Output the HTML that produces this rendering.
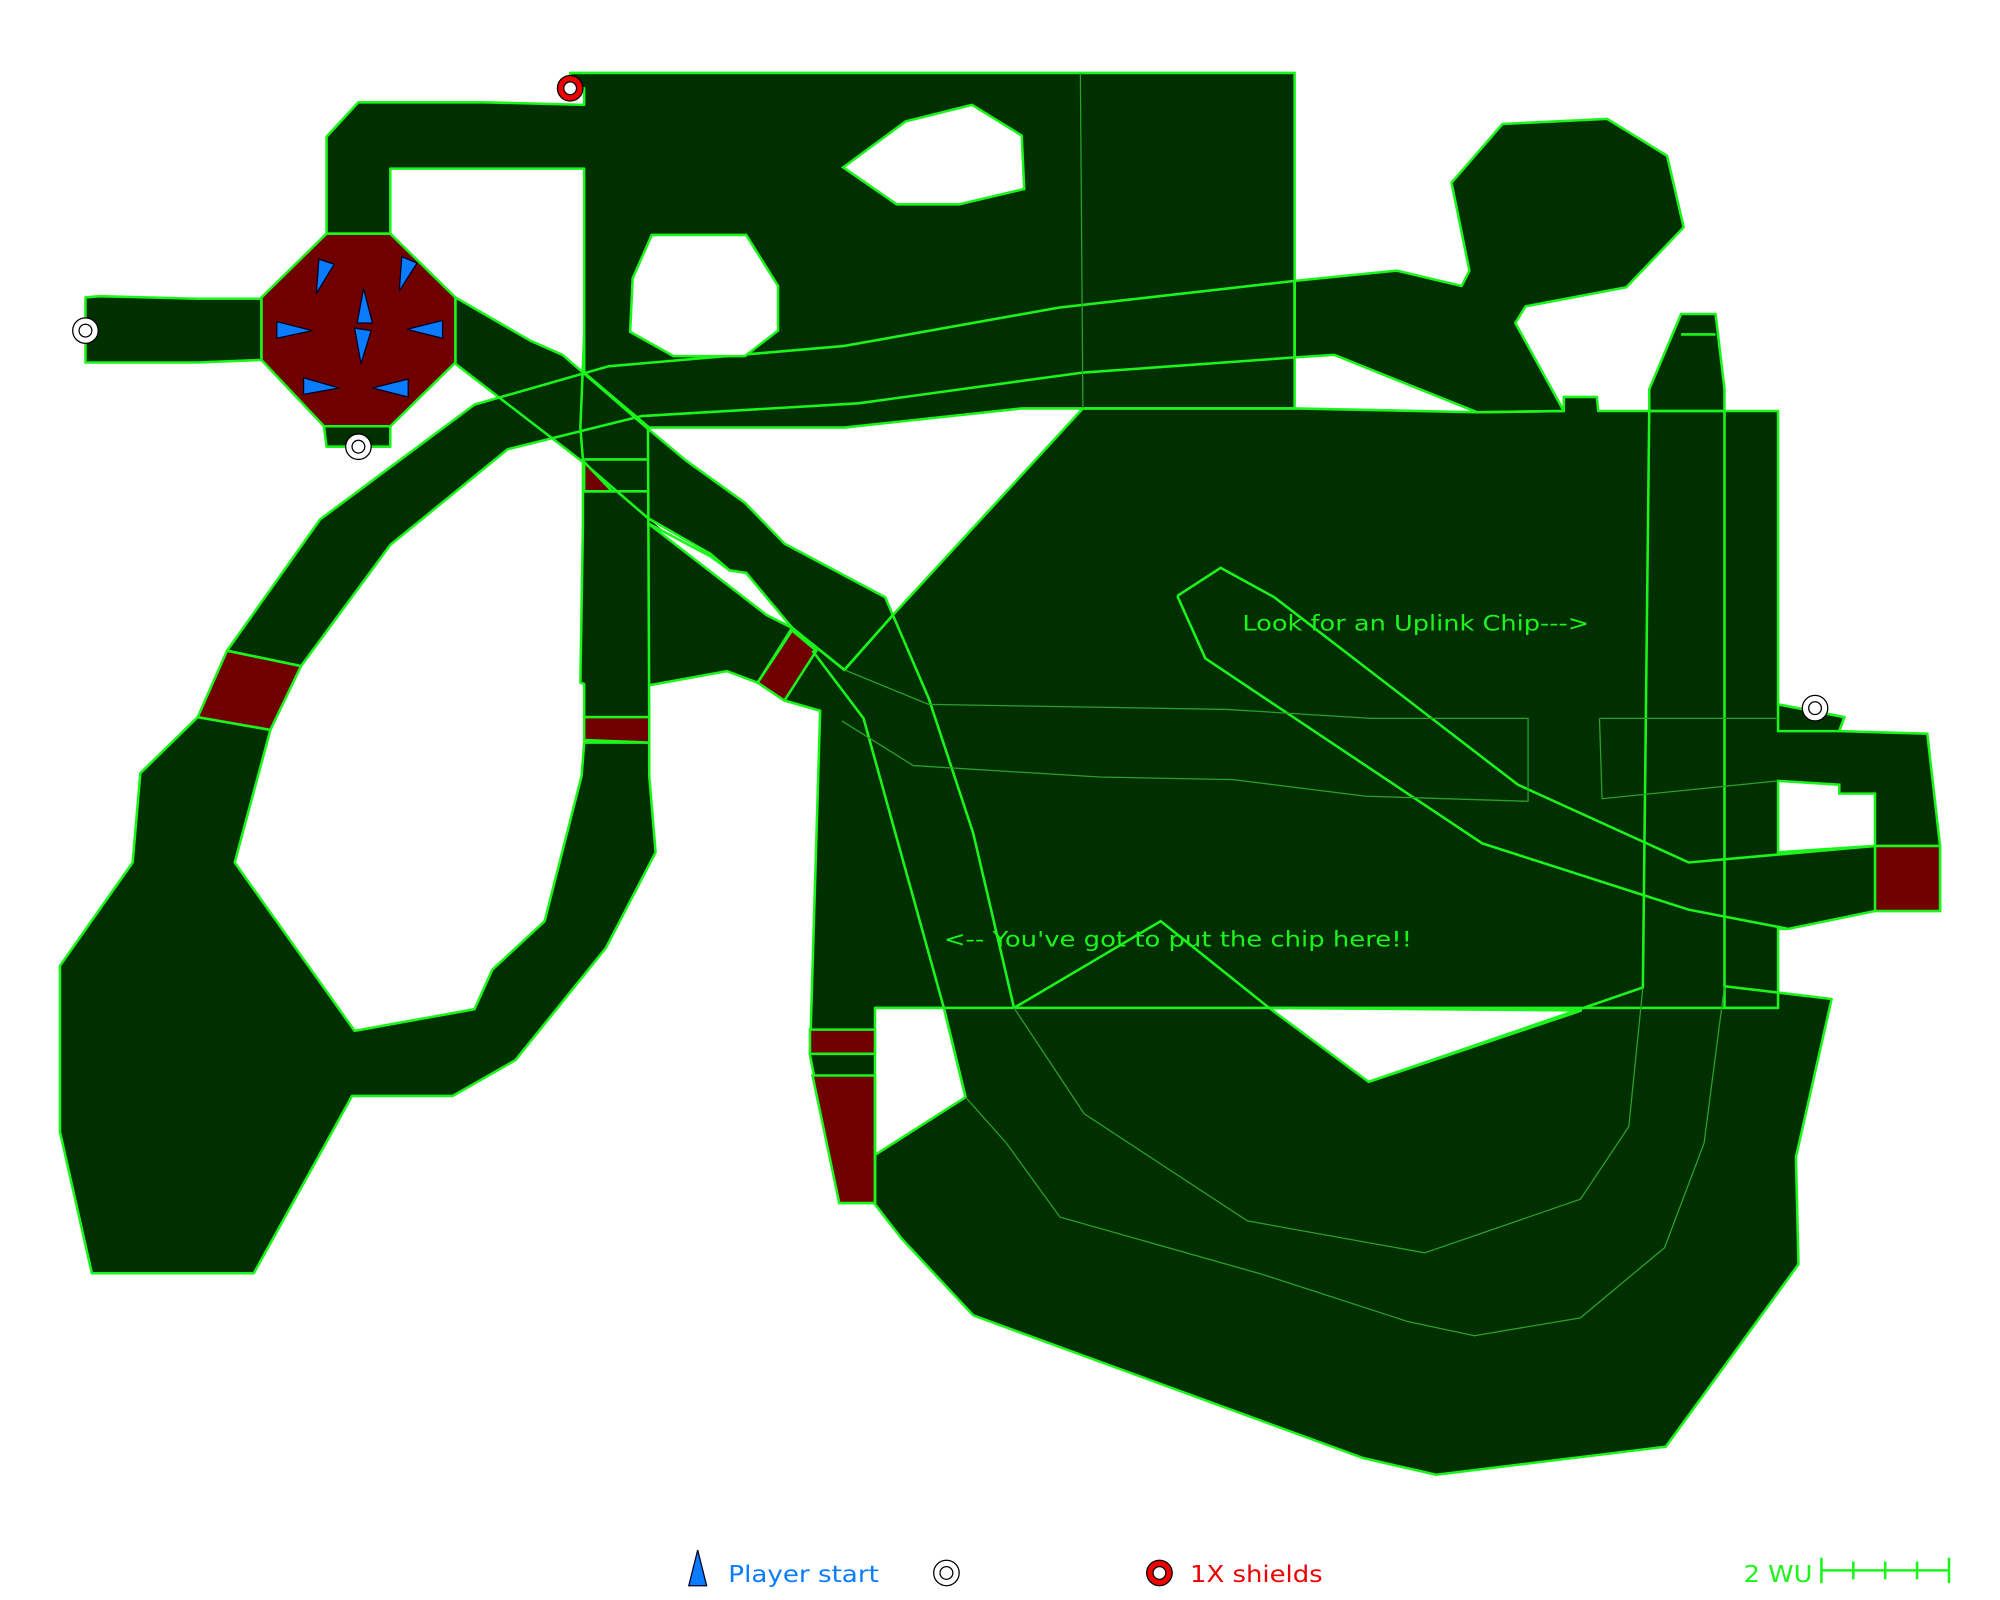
<!DOCTYPE html>
<html><head><meta charset="utf-8"><style>
html,body{margin:0;padding:0;background:#fff;}
svg{display:block;}
text{font-family:"DejaVu Sans","Liberation Sans",sans-serif;}
</style></head><body>
<svg width="2000" height="1600" viewBox="0 0 1568 1254" xmlns="http://www.w3.org/2000/svg">
<defs>
<polygon id="top" points="447,57 1015,57 1015,320 849,320 801,320 662,335 509,335 458,292 458,132 306,132 306,183 256,183 256,107 281,80 380,80 458,82 458,69 447,69"/>
<polygon id="main" points="849,320 1015,320 1158,323 1226,322 1226,311 1252,311 1253,322 1394,322 1394,552 1446,562 1442,573 1511,575 1521,663 1521,714 1470,714 1402,728 1394,728 1394,790 1352,790 1352,773 1436,783 1408,907 1410,991 1306,1134 1126,1156 1069,1143 763,1031 707,971 686,944 666,918 757,860 740,790 686,790 686,943 658,943 635,827 643,557 615,549 594,535 621,492 662,525 700,482"/>
<polygon id="pillar" points="1293,322 1293,305 1318,246 1345,246 1352,305 1352,322"/>
<polygon id="blob" points="1015,220 1095,212 1146,224 1152,212 1138,143 1178,97 1260,93 1307,122 1320,178 1275,225 1196,240 1188,253 1226,322 1158,323 1046,278 1015,280"/>
<polygon id="beam" points="251,407 178,510 236,522 306,427 398,352 503,326 673,316 848,292 1015,280 1015,220 830,241 662,271 477,287 372,317"/>
<polygon id="lb" points="155,562 212,572 184,676 278,808 372,791 386,760 427,722 456,608 458,582 509,582 509,608 514,668 475,743 404,831 355,859 276,859 199,998 72,998 47,887 47,757 104,676 110,606"/>
<polygon id="col" points="458,262 458,292 508,336 509,562 458,562 458,536 455,535 457,410 457,360 455,335"/>
<polygon id="diag" points="357,233 416,267 441,278 508,336 538,361 584,394 615,426 694,468 700,482 662,525 621,492 585,449 572,447 557,434 508,406 457,362 357,285"/>
<polygon id="tri" points="508,406 601,482 621,492 594,535 570,526 509,537"/>
<polygon id="stub" points="67,233 78,232 155,234 205,234 205,282 155,284 67,284"/>
<polygon id="stub2" points="254,334 306,334 306,350 256,350"/>
<polygon id="stub3" points="1394,552 1446,562 1442,573 1394,573"/>
<polygon id="foot" points="666,918 686,905 686,944"/>
</defs>
<g fill="#003000" stroke="none">
<use href="#top"/><use href="#main"/><use href="#pillar"/><use href="#blob"/><use href="#beam"/><use href="#lb"/><use href="#col"/><use href="#diag"/><use href="#tri"/><use href="#stub"/><use href="#stub2"/><use href="#stub3"/><use href="#foot"/>
</g>
<g fill="none" stroke="#1cf51c" stroke-width="2" stroke-linejoin="round">
<use href="#top"/><use href="#main"/><use href="#pillar"/><use href="#blob"/><use href="#beam"/><use href="#lb"/><use href="#col"/><use href="#diag"/><use href="#stub"/><use href="#stub2"/><use href="#stub3"/>
<polyline points="509,537 570,526 594,535"/>
<line x1="458" y1="360" x2="509" y2="360"/>
<line x1="458" y1="385" x2="509" y2="385"/>
</g>
<g fill="#fff" stroke="#1cf51c" stroke-width="2">
<polygon points="661,131 710,95 762,82 801,106 803,148 752,160 703,160"/>
<polygon points="511,184 585,184 610,224 610,259 584,279 528,279 494,260 496,218"/>
<polygon points="995,790 1073,848 1240,792"/>
<polygon points="1394,612 1442,615 1442,622 1470,622 1470,663 1394,668"/>
<polygon points="508,410 557,436 572,447 585,449 621,492 601,482"/>
</g>
<g fill="#700000" stroke="#1cf51c" stroke-width="2">
<polygon points="256,183 306,183 357,233 357,284 306,334 254,334 205,282 205,233"/>
<polygon points="178,510 236,522 212,572 155,562"/>
<polygon points="458,362 480,385 458,385"/>
<polygon points="458,562 509,562 509,582 458,580"/>
<polygon points="594,535 621,494 640,510 615,549"/>
<polygon points="635,807 686,807 686,826 635,826"/>
<polygon points="637,843 686,843 686,943 658,943"/>
<polygon points="1470,663 1521,663 1521,714 1470,714"/>
</g>
<g fill="none" stroke="#1cf51c" stroke-width="2">
<polyline points="923,467 957,445 999,468 1190,615 1324,676 1470,663"/>
<polyline points="923,467 945,516 1162,661 1324,713 1402,728"/>
<polyline points="637,510 677,563 740,790 757,860"/>
<polyline points="700,482 728,547 763,653 795,790"/>
<polyline points="795,790 910,722 995,790"/>
<polyline points="1293,322 1288,774 1073,848"/>
<polyline points="1352,322 1352,773"/>
<line x1="686" y1="790" x2="1394" y2="790"/>
<line x1="1318" y1="262" x2="1345" y2="262"/>
<line x1="686" y1="843" x2="686" y2="944"/>
</g>
<g fill="none" stroke="#2aa02a" stroke-width="1">
<line x1="847" y1="57" x2="849" y2="320"/>
<polyline points="662,525 728,552 962,556 1075,563 1198,563 1198,628 1070,624 967,611 862,609 716,600 660,565"/>
<polyline points="1254,563 1394,563"/>
<polyline points="1254,563 1256,626 1394,612"/>
<polyline points="795,790 850,873 978,957 1117,982 1239,940 1277,883 1288,774"/>
<polyline points="757,860 789,896 831,954 990,999 1104,1036 1156,1047 1239,1033 1305,978 1336,896 1352,773"/>
</g>
<g fill="#0a7cff" stroke="#002" stroke-width="1">
<polygon points="250,203 262,207 248,230"/>
<polygon points="315,201 327,206 313,228"/>
<polygon points="285,226 292,253 280,253"/>
<polygon points="278,257 291,259 283,285"/>
<polygon points="217,252 245,259 217,265"/>
<polygon points="319,258 347,251 347,265"/>
<polygon points="238,296 266,304 238,309"/>
<polygon points="292,304 320,297 320,311"/>
</g>
<g stroke="#000" stroke-width="1">
<circle cx="447" cy="69" r="10" fill="#e00"/><circle cx="447" cy="69" r="5" fill="#fff"/>
<circle cx="67" cy="259" r="10" fill="#fff"/><circle cx="67" cy="259" r="5" fill="#fff"/>
<circle cx="281" cy="350" r="10" fill="#fff"/><circle cx="281" cy="350" r="5" fill="#fff"/>
<circle cx="1423" cy="555" r="10" fill="#fff"/><circle cx="1423" cy="555" r="5" fill="#fff"/>
</g>
<text x="974" y="494" font-size="17" fill="#1cf51c" textLength="272" lengthAdjust="spacingAndGlyphs">Look for an Uplink Chip---&gt;</text>
<text x="740" y="742" font-size="17" fill="#1cf51c" textLength="367" lengthAdjust="spacingAndGlyphs">&lt;-- You've got to put the chip here!!</text>
<polygon points="547,1215 554,1243 540,1243" fill="#0a7cff" stroke="#002" stroke-width="1"/>
<text x="571" y="1240" font-size="18" fill="#0a7cff" textLength="118" lengthAdjust="spacingAndGlyphs">Player start</text>
<circle cx="742" cy="1233" r="10" fill="#fff" stroke="#000"/><circle cx="742" cy="1233" r="5" fill="#fff" stroke="#000"/>
<circle cx="909" cy="1233" r="10" fill="#e00" stroke="#000"/><circle cx="909" cy="1233" r="5" fill="#fff" stroke="#000"/>
<text x="933" y="1240" font-size="18" fill="#e00" textLength="104" lengthAdjust="spacingAndGlyphs">1X shields</text>
<text x="1367" y="1240" font-size="18" fill="#1cf51c" textLength="54" lengthAdjust="spacingAndGlyphs">2 WU</text>
<g stroke="#1cf51c" stroke-width="2">
<line x1="1428" y1="1231" x2="1528" y2="1231"/>
<line x1="1428" y1="1221" x2="1428" y2="1241"/>
<line x1="1453" y1="1224" x2="1453" y2="1238"/>
<line x1="1478" y1="1224" x2="1478" y2="1238"/>
<line x1="1503" y1="1224" x2="1503" y2="1238"/>
<line x1="1528" y1="1221" x2="1528" y2="1241"/>
</g>
</svg>
</body></html>
